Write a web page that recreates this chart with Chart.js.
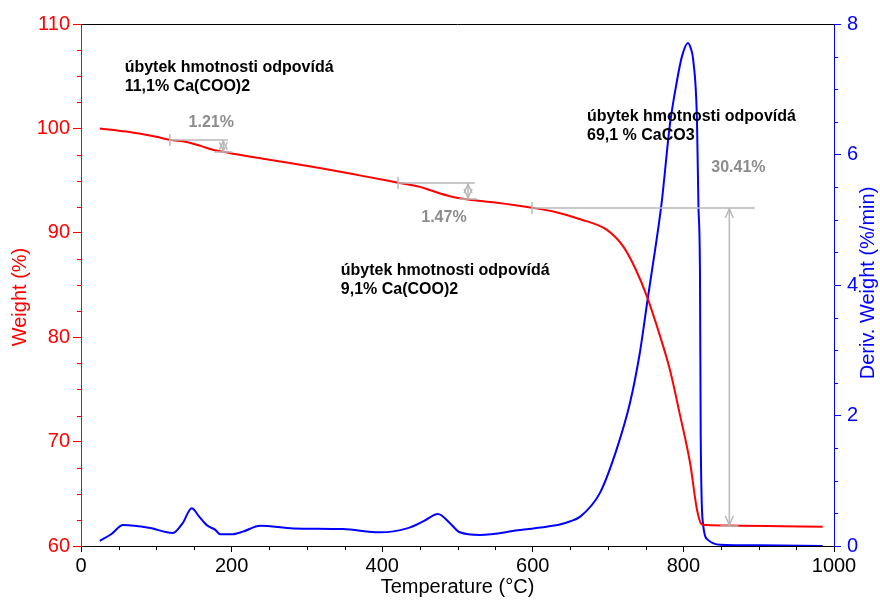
<!DOCTYPE html>
<html>
<head>
<meta charset="utf-8">
<script src="https://cdn.jsdelivr.net/npm/chart.js@4"></script>
<style>
  html, body { margin: 0; padding: 0; background: #fff; }
  #myChart { display: block; }
</style>
</head>
<body>
<canvas id="myChart" width="880" height="601"></canvas>
<script>
// TGA curve - temperature (°C) and weight (%)
var weightTemp = [25, 60, 100, 118, 140, 160, 175, 189, 200, 250, 317, 370, 421, 450, 463, 490, 514, 550, 599,
  630, 663, 698, 720, 736, 751, 769, 782, 795, 809, 818, 824, 830, 875, 930, 985];
var weightVal = [100.0, 99.7, 99.2, 98.9, 98.7, 98.3, 97.95, 97.75, 97.6, 97.0, 96.2, 95.5, 94.8, 94.4, 94.1, 93.5, 93.2, 92.9, 92.4,
  92.0, 91.3, 90.3, 88.7, 86.6, 84.0, 80.1, 76.9, 72.7, 67.9, 63.5, 62.1, 62.0, 61.95, 61.9, 61.85];

// DTG curve - temperature (°C) and derivative weight (%/min)
var derivTemp = [25, 40, 56, 90, 122, 135, 147, 157, 167, 178, 185, 200, 215, 238, 282, 348, 397, 433, 455, 474, 490, 503,
  530, 580, 620, 636, 650, 663, 689, 711, 729, 742, 753, 758, 771, 782, 791, 798, 806, 810, 813, 818, 820, 822, 823, 826, 833, 849, 900, 985];
var derivVal = [0.08, 0.18, 0.32, 0.28, 0.2, 0.35, 0.58, 0.45, 0.32, 0.25, 0.18, 0.18, 0.22, 0.31, 0.27, 0.26, 0.21, 0.27, 0.38, 0.49, 0.35, 0.21,
  0.17, 0.24, 0.3, 0.33, 0.38, 0.45, 0.81, 1.47, 2.19, 2.95, 3.82, 4.2, 5.25, 6.45, 7.1, 7.5, 7.71, 7.62, 7.45, 6.53, 5.2, 4.2, 1.67, 0.35, 0.09, 0.02, 0.01, 0.0];

// mass loss steps (grey markers)
var stepLabels = ["1.21%", "1.47%", "30.41%"];
var stepStartT = [118, 421, 599];
var stepArrowT = [189, 514, 861];
var stepEndT = [195, 523, 895];
var stepFromW = [98.89, 94.77, 92.38];
var stepToW = [97.74, 93.24, 61.92];
var stepLabelT = [173, 482, 873];
var stepLabelW = [100.6, 91.5, 96.2];

// text notes
var noteLines = [
  ["úbytek hmotnosti odpovídá", "11,1% Ca(COO)2"],
  ["úbytek hmotnosti odpovídá", "9,1% Ca(COO)2"],
  ["úbytek hmotnosti odpovídá", "69,1 % CaCO3"]
];
var noteT = [58, 345, 672];
var noteW = [105.8, 86.4, 101.1];

var FONT = "'Liberation Sans', Arial, sans-serif";
var GREY = "#b8b8b8";

function toPoints(xs, ys) {
  var pts = [];
  for (let i = 0; i < xs.length; i++) pts.push({x: xs[i], y: ys[i]});
  return pts;
}

function tickColorFor(color, isMajor) {
  return function(ctx) {
    if (!ctx.tick) return color;
    return isMajor(ctx.tick.value) ? color : "rgba(0,0,0,0)";
  };
}

var isMajorX = v => Math.abs(v % 200) < 1e-6;
var isMajorY = v => Math.abs(v % 10) < 1e-6;
var isMajorY1 = v => Math.abs(v % 2) < 1e-6;

function arrowHead(ctx, x, y, dir) {
  // dir = -1 points up, 1 points down
  ctx.beginPath();
  ctx.moveTo(x - 4, y - dir * 9);
  ctx.lineTo(x, y);
  ctx.lineTo(x + 4, y - dir * 9);
  ctx.stroke();
}

var extrasPlugin = {
  id: "extras",
  afterDraw(chart) {
    const ctx = chart.ctx;
    const x = chart.scales.x, y = chart.scales.y, y1 = chart.scales.y1;
    const area = chart.chartArea;
    ctx.save();

    // top frame line
    ctx.strokeStyle = "#000";
    ctx.lineWidth = 1;
    ctx.beginPath();
    ctx.moveTo(area.left, area.top + 0.5);
    ctx.lineTo(area.right, area.top + 0.5);
    ctx.stroke();

    // minor ticks
    ctx.strokeStyle = "#000";
    for (let v = 0; v <= 1000; v += 50) {
      if (isMajorX(v)) continue;
      const px = Math.round(x.getPixelForValue(v)) + 0.5;
      ctx.beginPath(); ctx.moveTo(px, area.bottom); ctx.lineTo(px, area.bottom + 4); ctx.stroke();
    }
    ctx.strokeStyle = "#ff0000";
    for (let v = 60; v <= 110; v += 2.5) {
      if (isMajorY(v)) continue;
      const py = Math.round(y.getPixelForValue(v)) + 0.5;
      ctx.beginPath(); ctx.moveTo(area.left, py); ctx.lineTo(area.left - 4, py); ctx.stroke();
    }
    ctx.strokeStyle = "#0000ff";
    for (let v = 0; v <= 8; v += 0.5) {
      if (isMajorY1(v)) continue;
      const py = Math.round(y1.getPixelForValue(v)) + 0.5;
      ctx.beginPath(); ctx.moveTo(area.right, py); ctx.lineTo(area.right + 4, py); ctx.stroke();
    }

    // mass loss steps
    ctx.strokeStyle = GREY;
    ctx.lineWidth = 1.5;
    for (let i = 0; i < stepLabels.length; i++) {
      const xs = x.getPixelForValue(stepStartT[i]);
      const xa = x.getPixelForValue(stepArrowT[i]);
      const xe = x.getPixelForValue(stepEndT[i]);
      const yt = y.getPixelForValue(stepFromW[i]);
      const yb = y.getPixelForValue(stepToW[i]);
      ctx.beginPath();
      ctx.moveTo(xs, yt); ctx.lineTo(xe, yt);
      ctx.moveTo(xs, yt - 6); ctx.lineTo(xs, yt + 6);
      ctx.moveTo(xa, yt); ctx.lineTo(xa, yb);
      ctx.moveTo(xa - 9, yb); ctx.lineTo(xa + 9, yb);
      ctx.stroke();
      arrowHead(ctx, xa, yt + 1, -1);
      arrowHead(ctx, xa, yb - 1, 1);

      ctx.fillStyle = "#8c8c8c";
      ctx.font = "bold 16px " + FONT;
      ctx.textAlign = "center";
      ctx.textBaseline = "middle";
      ctx.fillText(stepLabels[i], x.getPixelForValue(stepLabelT[i]), y.getPixelForValue(stepLabelW[i]));
    }

    // notes
    ctx.fillStyle = "#000";
    ctx.font = "bold 16px " + FONT;
    ctx.textAlign = "left";
    ctx.textBaseline = "middle";
    for (let i = 0; i < noteLines.length; i++) {
      const nx = x.getPixelForValue(noteT[i]);
      const ny = y.getPixelForValue(noteW[i]);
      for (let j = 0; j < noteLines[i].length; j++) {
        ctx.fillText(noteLines[i][j], nx, ny + j * 19);
      }
    }

    // axis titles on the sides (both read bottom to top)
    ctx.font = "20px " + FONT;
    ctx.textAlign = "center";
    ctx.textBaseline = "middle";
    ctx.fillStyle = "#ff0000";
    ctx.save();
    ctx.translate(20, 297);
    ctx.rotate(-Math.PI / 2);
    ctx.fillText("Weight (%)", 0, 0);
    ctx.restore();
    ctx.fillStyle = "#0000ff";
    ctx.save();
    ctx.translate(868, 283);
    ctx.rotate(-Math.PI / 2);
    ctx.fillText("Deriv. Weight (%/min)", 0, 0);
    ctx.restore();

    ctx.restore();
  }
};

function loadChart() {
  var ctx = document.getElementById("myChart");
  myChart = new Chart(ctx, {
    type: "line",
    data: {
      datasets: [
        {
          label: "Weight",
          data: toPoints(weightTemp, weightVal),
          yAxisID: "y",
          borderColor: "#ff0000",
          borderWidth: 2,
          pointRadius: 0,
          cubicInterpolationMode: "monotone",
          fill: false
        },
        {
          label: "Deriv. Weight",
          data: toPoints(derivTemp, derivVal),
          yAxisID: "y1",
          borderColor: "#0000ff",
          borderWidth: 2,
          pointRadius: 0,
          cubicInterpolationMode: "monotone",
          fill: false
        }
      ]
    },
    options: {
      responsive: false,
      animation: false,
      maintainAspectRatio: false,
      layout: { padding: { top: 24, left: 0, right: 0, bottom: 0 } },
      plugins: { legend: { display: false }, tooltip: { enabled: false } },
      scales: {
        x: {
          type: "linear",
          min: 0, max: 1000,
          afterFit: s => { s.height = 55; },
          border: { color: "#000", width: 1 },
          grid: { drawOnChartArea: false, tickLength: 6, tickColor: tickColorFor("#000", isMajorX) },
          ticks: {
            stepSize: 50, autoSkip: false, maxRotation: 0, padding: 2,
            color: "#000", font: { family: FONT, size: 20 },
            callback: v => isMajorX(v) ? v : ""
          },
          title: { display: true, text: "Temperature (°C)", color: "#000", font: { family: FONT, size: 20 }, padding: { top: 0, bottom: 2 } }
        },
        y: {
          type: "linear", position: "left",
          min: 60, max: 110,
          afterFit: s => { s.width = 81; },
          border: { color: "#ff0000", width: 1 },
          grid: { drawOnChartArea: false, tickLength: 8, tickColor: tickColorFor("#ff0000", isMajorY) },
          ticks: {
            stepSize: 2.5, autoSkip: false, padding: 3,
            color: "#ff0000", font: { family: FONT, size: 20 },
            callback: v => isMajorY(v) ? v : ""
          }
        },
        y1: {
          type: "linear", position: "right",
          min: 0, max: 8,
          afterFit: s => { s.width = 46; },
          border: { color: "#0000ff", width: 1 },
          grid: { drawOnChartArea: false, tickLength: 7, tickColor: tickColorFor("#0000ff", isMajorY1) },
          ticks: {
            stepSize: 0.5, autoSkip: false, padding: 6,
            color: "#0000ff", font: { family: FONT, size: 20 },
            callback: v => isMajorY1(v) ? v : ""
          }
        }
      }
    },
    plugins: [extrasPlugin]
  });
}

loadChart();
</script>
</body>
</html>
